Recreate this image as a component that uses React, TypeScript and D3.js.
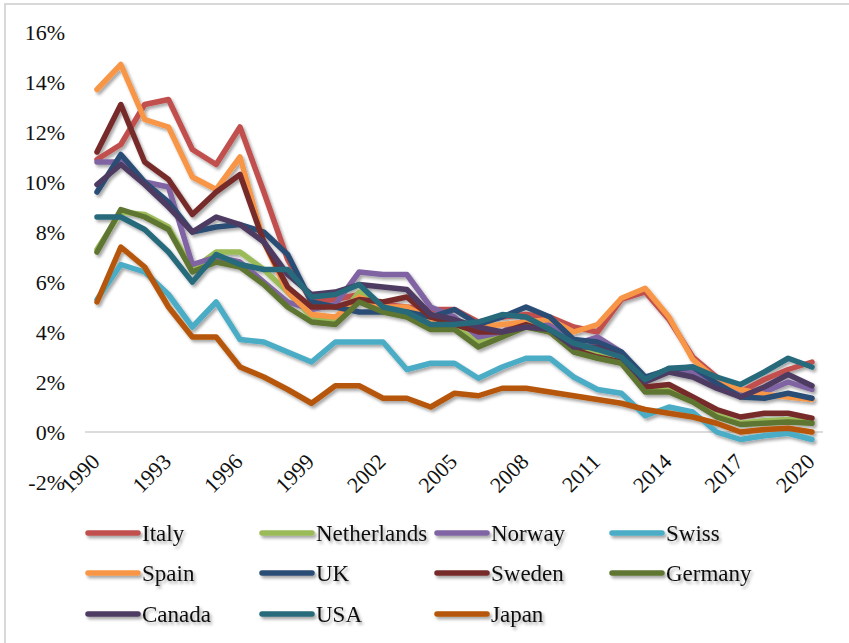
import * as d3 from 'd3'
import React, { useEffect, useRef } from "react";

// 1990..2020, rates in %
const years = d3.range(1990, 2021);
const tickYears = [1990, 1993, 1996, 1999, 2002, 2005, 2008, 2011, 2014, 2017, 2020];
const yTicks = [-2, 0, 2, 4, 6, 8, 10, 12, 14, 16];

const countries = ["Italy", "Netherlands", "Norway", "Swiss", "Spain", "UK", "Sweden", "Germany", "Canada", "USA", "Japan"];
const colors = ["#C0504D", "#9BBB59", "#8064A2", "#4BACC6", "#F79646", "#2C4D75", "#772C2A", "#5F7530", "#4D3B62", "#276A7C", "#B65708"];

const italy = [10.9, 11.5, 13.1, 13.3, 11.3, 10.7, 12.2, 9.6, 6.9, 5.2, 5.3, 5.5, 5.1, 5.0, 4.9, 4.9, 4.4, 4.6, 4.7, 4.6, 4.2, 4.0, 5.3, 5.6, 4.5, 3.0, 2.2, 1.6, 2.1, 2.5, 2.8];
const netherlands = [7.3, 8.8, 8.7, 8.2, 6.5, 7.2, 7.2, 6.5, 5.6, 4.6, 4.4, 5.6, 5.0, 4.9, 4.3, 4.2, 3.6, 3.9, 4.3, 4.0, 3.3, 3.1, 2.8, 1.7, 1.8, 1.3, 0.7, 0.35, 0.45, 0.5, 0.4];
const norway = [10.8, 10.8, 10.0, 9.8, 6.7, 7.0, 6.8, 6.0, 5.2, 4.9, 5.1, 6.4, 6.3, 6.3, 5.0, 4.6, 3.8, 4.0, 4.5, 4.3, 3.5, 3.8, 3.2, 2.1, 2.5, 2.4, 1.9, 1.5, 1.6, 2.0, 1.7];
const swiss = [5.3, 6.7, 6.4, 5.5, 4.2, 5.2, 3.7, 3.6, 3.2, 2.8, 3.6, 3.6, 3.6, 2.5, 2.75, 2.75, 2.15, 2.6, 2.95, 2.95, 2.2, 1.7, 1.55, 0.65, 1.0, 0.8, 0.0, -0.3, -0.15, -0.05, -0.3];
const spain = [13.7, 14.7, 12.5, 12.2, 10.2, 9.7, 11.0, 7.6, 5.6, 4.7, 4.6, 5.4, 5.0, 5.0, 4.5, 4.3, 4.2, 4.3, 4.4, 4.5, 4.0, 4.3, 5.35, 5.75, 4.6, 2.9, 2.1, 1.7, 1.5, 1.4, 1.3];
const uk = [9.6, 11.1, 10.0, 9.2, 8.0, 8.2, 8.3, 8.0, 7.1, 5.2, 5.0, 4.8, 4.8, 4.8, 4.6, 4.9, 4.3, 4.6, 5.0, 4.6, 3.7, 3.6, 3.2, 2.2, 2.5, 2.6, 1.95, 1.4, 1.35, 1.55, 1.35];
const sweden = [11.2, 13.1, 10.8, 10.1, 8.7, 9.6, 10.3, 7.6, 5.8, 5.0, 5.0, 5.3, 5.2, 5.4, 4.6, 4.3, 4.0, 4.0, 4.3, 4.0, 3.3, 3.0, 2.8, 1.8, 1.9, 1.4, 0.9, 0.6, 0.75, 0.75, 0.55];
const germany = [7.2, 8.9, 8.6, 8.1, 6.4, 6.8, 6.6, 5.9, 5.0, 4.4, 4.3, 5.2, 4.8, 4.6, 4.1, 4.1, 3.4, 3.8, 4.2, 4.0, 3.2, 2.95, 2.75, 1.6, 1.6, 1.2, 0.6, 0.3, 0.35, 0.4, 0.35];
const canada = [9.9, 10.7, 9.9, 9.0, 8.0, 8.6, 8.3, 7.6, 6.3, 5.5, 5.6, 5.9, 5.8, 5.7, 4.7, 4.5, 4.2, 4.0, 4.2, 4.1, 3.4, 3.4, 3.0, 2.0, 2.4, 2.2, 1.75, 1.4, 1.8, 2.3, 1.85];
const usa = [8.6, 8.6, 8.1, 7.2, 6.0, 7.1, 6.7, 6.5, 6.5, 5.4, 5.5, 5.9, 5.0, 4.8, 4.3, 4.3, 4.4, 4.7, 4.6, 4.1, 3.55, 3.3, 3.0, 2.1, 2.55, 2.6, 2.2, 1.9, 2.4, 2.95, 2.6];
const japan = [5.2, 7.4, 6.6, 5.0, 3.8, 3.8, 2.6, 2.2, 1.7, 1.15, 1.85, 1.85, 1.35, 1.35, 1.0, 1.55, 1.45, 1.75, 1.75, 1.6, 1.45, 1.3, 1.15, 0.9, 0.75, 0.6, 0.35, 0.0, 0.1, 0.15, 0.0];

const seriesValues = [italy, netherlands, norway, swiss, spain, uk, sweden, germany, canada, usa, japan];

const FONT = "'Liberation Serif', 'DejaVu Serif', serif";

const App: React.FC = () => {
    const ref = useRef<SVGSVGElement>(null);

    useEffect(() => {
        if (!ref.current) return;
        const width = 849;
        const height = 643;
        const svg = d3.select(ref.current);
        svg.selectAll('*').remove();
        svg.attr('width', width).attr('height', height);

        const defs = svg.append('defs');
        defs.append('filter')
            .attr('id', 'shadow')
            .attr('filterUnits', 'userSpaceOnUse')
            .attr('x', 0).attr('y', 0)
            .attr('width', width).attr('height', height)
            .append('feDropShadow')
            .attr('dx', 2).attr('dy', 2.5)
            .attr('stdDeviation', 1.8)
            .attr('flood-color', '#000')
            .attr('flood-opacity', 0.35);

        svg.append('rect')
            .attr('width', width).attr('height', height)
            .attr('fill', '#fff');

        // chart area border (only top/left visible)
        svg.append('rect')
            .attr('x', 5).attr('y', 4)
            .attr('width', width + 10).attr('height', height + 10)
            .attr('fill', 'none')
            .attr('stroke', '#D4D4D4')
            .attr('stroke-width', 1.8);

        const x = d3.scaleLinear().domain([1990, 2020]).range([97, 812]);
        const y = d3.scaleLinear().domain([-2, 16]).range([482, 32]);

        // zero line
        svg.append('line')
            .attr('x1', 85).attr('x2', 823)
            .attr('y1', y(0)).attr('y2', y(0))
            .attr('stroke', '#D0D0D0')
            .attr('stroke-width', 1.5);

        // y labels
        svg.append('g')
            .selectAll('text')
            .data(yTicks)
            .join('text')
            .attr('x', 65)
            .attr('y', d => y(d))
            .attr('dy', '0.35em')
            .attr('text-anchor', 'end')
            .style('font-family', FONT)
            .style('font-size', '22px')
            .attr('fill', '#111')
            .text(d => `${d}%`);

        // x labels, rotated
        svg.append('g')
            .selectAll('text')
            .data(tickYears)
            .join('text')
            .attr('transform', d => `translate(${x(d) + 4}, 463) rotate(-45)`)
            .attr('text-anchor', 'end')
            .style('font-family', FONT)
            .style('font-size', '22px')
            .attr('fill', '#111')
            .text(d => String(d));

        const line = d3.line<number>()
            .x((_, i) => x(years[i]))
            .y(d => y(d));

        svg.append('g')
            .attr('filter', 'url(#shadow)')
            .selectAll('path')
            .data(seriesValues)
            .join('path')
            .attr('d', d => line(d))
            .attr('fill', 'none')
            .attr('stroke', (_, i) => colors[i])
            .attr('stroke-width', 5.5)
            .attr('stroke-linejoin', 'round')
            .attr('stroke-linecap', 'round');

        // legend
        const colX = [88, 262, 437, 612];
        const rowY = [533, 573, 614];
        const legend = svg.append('g')
            .attr('filter', 'url(#shadow)')
            .selectAll('g')
            .data(countries)
            .join('g')
            .attr('transform', (_, i) => `translate(${colX[i % 4]}, ${rowY[Math.floor(i / 4)]})`);

        legend.append('line')
            .attr('x1', 0).attr('x2', 50)
            .attr('y1', 0).attr('y2', 0)
            .attr('stroke', (_, i) => colors[i])
            .attr('stroke-width', 5.5)
            .attr('stroke-linecap', 'round');

        legend.append('text')
            .attr('x', 54)
            .attr('dy', '0.35em')
            .style('font-family', FONT)
            .style('font-size', '23px')
            .attr('fill', '#111')
            .text(d => d);
    }, []);

    return (
        <svg ref={ref} style={{ position: 'absolute', left: 0, top: 0 }}></svg>
    );
}

export default App;
